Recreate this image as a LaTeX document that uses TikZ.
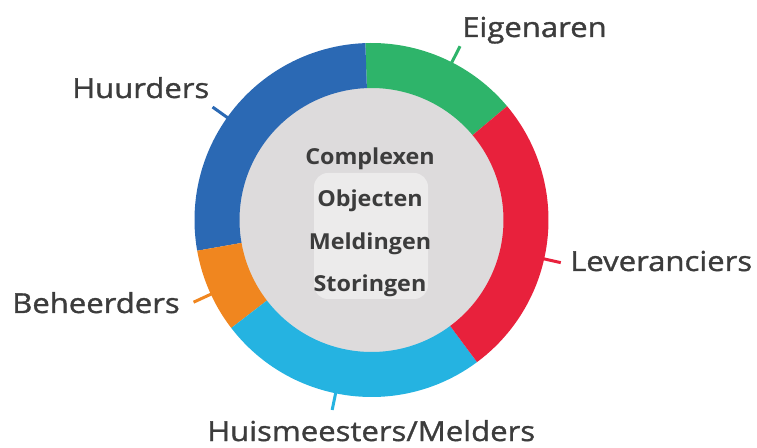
\documentclass[tikz,border=0pt]{standalone}
\usepackage{fontspec}
\setmainfont{Open Sans}
\newfontfamily\lblfont{Open Sans}[FakeStretch=1.13, FakeBold=1.2]
\newfontfamily\ctrfont{Open Sans}[FakeStretch=1.06]
\usetikzlibrary{calc}
\definecolor{cblue}{HTML}{2B69B4}
\definecolor{cgreen}{HTML}{2EB46A}
\definecolor{cred}{HTML}{E8213C}
\definecolor{ccyan}{HTML}{25B3E1}
\definecolor{corange}{HTML}{F0861F}
\definecolor{cgray}{HTML}{DDDBDC}
\definecolor{ctext}{HTML}{3C3C3C}
\tikzset{
  lbl/.style={anchor=base west, inner sep=0pt, text=ctext, font=\lblfont\fontsize{27.5}{30}\selectfont},
  ctr/.style={anchor=base, inner sep=0pt, text=ctext, font=\ctrfont\bfseries\fontsize{22}{24}\selectfont},
  tick/.style={line width=3pt},
}
\newcommand{\seg}[3]{\fill[#1] ($(c)+(#2:177)$) arc[start angle=#2, end angle=#3, radius=177] -- ($(c)+(#3:132)$) arc[start angle=#3, end angle=#2, radius=132] -- cycle;}
\begin{document}
\begin{tikzpicture}[x=1pt,y=1pt]
\useasboundingbox (0,0) rectangle (757,447);
\coordinate (c) at (371.5,227);
\fill[cgray] (c) circle[radius=133];
% faint database icon
\fill[white, opacity=0.45, rounded corners=14pt] (314,274) rectangle (428,148);
\seg{cgreen}{40}{92}
\seg{cblue}{92}{190}
\seg{corange}{190}{217.6}
\seg{ccyan}{217.6}{306.6}
\seg{cred}{306.6}{400}
% ticks
\draw[tick,cgreen] ($(c)+(63:172)$) -- ($(c)+(63:195)$);
\draw[tick,cblue] ($(c)+(144.6:172)$) -- ($(c)+(144.6:195)$);
\draw[tick,cred] ($(c)+(-12.7:172)$) -- ($(c)+(-12.7:194)$);
\draw[tick,corange] ($(c)+(204.8:172)$) -- ($(c)+(204.8:196)$);
\draw[tick,ccyan] ($(c)+(258.3:172)$) -- ($(c)+(258.3:194)$);
% labels
\node[lbl] (eig) at (462,410) {Eigenaren};
\node[lbl] (huu) at (72,349) {Huurders};
\node[lbl] (lev) at (570,176) {Leveranciers};
\node[lbl] (beh) at (12,134) {Beheerders};
\node[lbl] (hui) at (207,6) {Huismeesters/Melders};
% center
\node[ctr] (com) at (370,282) {Complexen};
\node[ctr] (obj) at (370,240) {Objecten};
\node[ctr] (mel) at (370,197) {Meldingen};
\node[ctr] (sto) at (370,155) {Storingen};
\end{tikzpicture}
\end{document}
